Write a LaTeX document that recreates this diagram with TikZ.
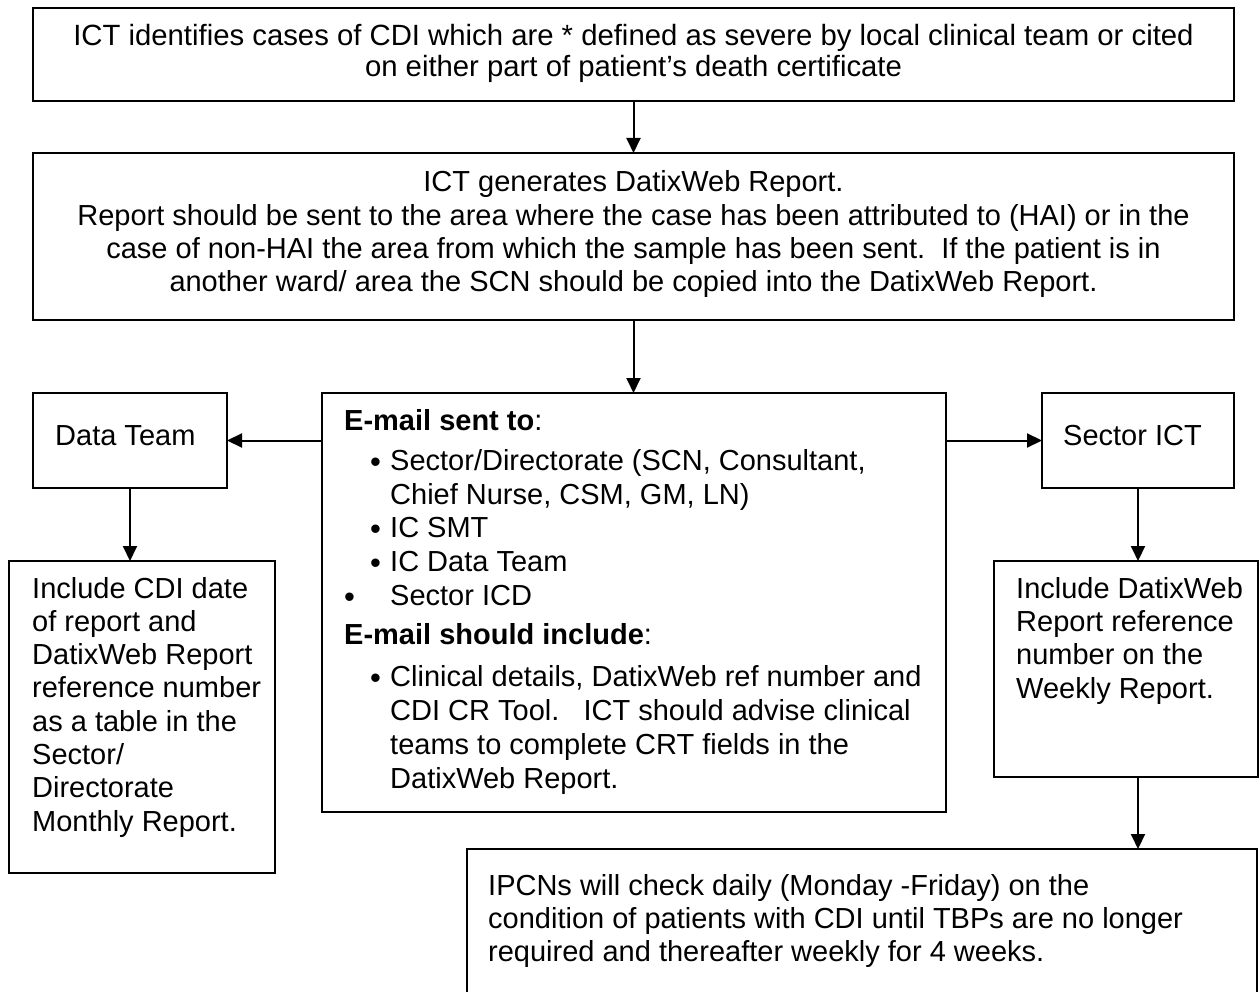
\documentclass[tikz,border=0pt]{standalone}
\usepackage{fontspec}
\setmainfont{Liberation Sans}
\usetikzlibrary{arrows.meta}
\begin{document}
\begin{tikzpicture}[x=1pt,y=-1pt,
  box/.style={draw, line width=2pt, anchor=north west, inner sep=0pt, outer sep=0pt},
  txt/.style={inner sep=0pt, font=\fontsize{29}{33.3}\selectfont, anchor=base west, align=left},
  ctxt/.style={txt, anchor=base, align=center},
  bul/.style={inner sep=0pt, font=\fontsize{31}{31}\selectfont, anchor=base west},
  conn/.style={line width=2pt, -{Triangle[length=15pt,width=14pt]}},
]
\useasboundingbox (0,0) rectangle (1260,992);
\clip (0,0) rectangle (1260,992);
% boxes
\node[box, minimum width=1201pt, minimum height=93pt]  (top)   at (33,8)   {};
\node[box, minimum width=1201pt, minimum height=167pt] (rep)   at (33,153) {};
\node[box, minimum width=624pt,  minimum height=419pt] (email) at (322,393) {};
\node[box, minimum width=194pt,  minimum height=95pt]  (data)  at (33,393)  {};
\node[box, minimum width=192pt,  minimum height=95pt]  (sect)  at (1042,393) {};
\node[box, minimum width=266pt,  minimum height=312pt] (lbox)  at (9,561)   {};
\node[box, minimum width=264pt,  minimum height=216pt] (rbox)  at (994,561) {};
\node[box, minimum width=790pt,  minimum height=200pt] (bot)   at (467,849) {};
% texts (anchor = baseline of the last line)
\node[ctxt, font=\fontsize{29.3}{31}\selectfont] (t1) at (633.5,77) {ICT identifies cases of CDI which are * defined as severe by local clinical team or cited\\on either part of patient’s death certificate};
\node[ctxt] (t2) at (633.5,291.6) {ICT generates DatixWeb Report.\\Report should be sent to the area where the case has been attributed to (HAI) or in the\\case of non-HAI the area from which the sample has been sent.~~If the patient is in\\another ward/ area the SCN should be copied into the DatixWeb Report.};
\node[txt] (h1) at (344,430) {\textbf{E-mail sent to}:};
\node[bul] (b1) at (370,472) {•};
\node[txt] (i1) at (390,504) {Sector/Directorate (SCN, Consultant,\\[0.7pt]Chief Nurse, CSM, GM, LN)};
\node[bul] (b2) at (370,539) {•};
\node[txt] (i2) at (390,537) {IC SMT};
\node[bul] (b3) at (370,573) {•};
\node[txt] (i3) at (390,571) {IC Data Team};
\node[bul] (b4) at (344,607) {•};
\node[txt] (i4) at (390,605) {Sector ICD};
\node[txt] (h2) at (344,644) {\textbf{E-mail should include}:};
\node[bul] (b5) at (370,688) {•};
\node[txt, font=\fontsize{29}{34}\selectfont] (i5) at (390,788) {Clinical details, DatixWeb ref number and\\CDI CR Tool.~~~ICT should advise clinical\\teams to complete CRT fields in the\\DatixWeb Report.};
\node[txt] (dt) at (55,445) {Data Team};
\node[txt] (st) at (1063,445) {Sector ICT};
\node[txt] (lt) at (32,831.1) {Include CDI date\\of report and\\DatixWeb Report\\reference number\\as a table in the\\Sector/\\Directorate\\Monthly Report.};
\node[txt] (rt) at (1016,698) {Include DatixWeb\\Report reference\\number on the\\Weekly Report.};
\node[txt] (bt) at (488,961.6) {IPCNs will check daily (Monday -Friday) on the\\condition of patients with CDI until TBPs are no longer\\required and thereafter weekly for 4 weeks.};
% connectors
\draw[conn] (top.south) -- (top.south |- rep.north);
\draw[conn] (rep.south) -- (rep.south |- email.north);
\draw[conn] (email.west |- data.east) -- (data.east);
\draw[conn] (email.east |- sect.west) -- (sect.west);
\draw[conn] (data.south) -- (data.south |- lbox.north);
\draw[conn] (sect.south) -- (sect.south |- rbox.north);
\draw[conn] (sect.south |- rbox.south) -- (sect.south |- bot.north);
\end{tikzpicture}
\end{document}
